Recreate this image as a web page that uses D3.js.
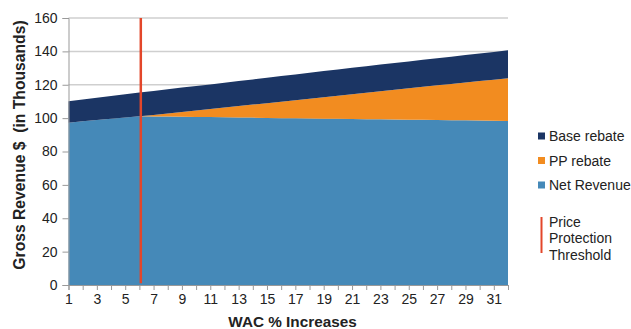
<!DOCTYPE html>
<html>
<head>
<meta charset="utf-8">
<script src="https://cdn.jsdelivr.net/npm/d3@7"></script>
<style>
  body { margin: 0; background: #fff; }
  svg text { font-family: "Liberation Sans", Arial, sans-serif; fill: #222; }
</style>
</head>
<body>
<svg id="chart" width="631" height="329"></svg>
<script>
// categories: WAC % increases
const categories = d3.range(1, 33)
const netRevenue = [97.3, 98.1, 98.9, 99.6, 100.4, 101.1, 101.0, 100.9, 100.8, 100.7,
  100.6, 100.5, 100.4, 100.3, 100.1, 100.0, 99.9, 99.8, 99.7, 99.6,
  99.5, 99.4, 99.3, 99.2, 99.1, 99.0, 98.9, 98.8, 98.7, 98.6, 98.4, 98.3]
const ppRebate = [0, 0, 0, 0, 0, 0, 0.9, 1.9, 2.8, 3.8,
  4.8, 5.8, 6.8, 7.8, 8.8, 9.8, 10.8, 11.8, 12.8, 13.8,
  14.8, 15.8, 16.8, 17.8, 18.8, 19.8, 20.8, 21.7, 22.7, 23.7, 24.6, 25.6]
const baseRebate = [12.8, 13.0, 13.3, 13.6, 13.9, 14.2, 14.4, 14.5, 14.7, 14.7,
  14.8, 14.9, 15.0, 15.1, 15.3, 15.4, 15.5, 15.6, 15.7, 15.8,
  15.9, 15.9, 16.0, 16.1, 16.1, 16.2, 16.2, 16.3, 16.4, 16.4, 16.7, 16.7]
const yTicks = [0, 20, 40, 60, 80, 100, 120, 140, 160]
const thresholdAt = 6.1

const seriesInfo = [
  { key: 'net', name: 'Net Revenue', color: '#4589b8' },
  { key: 'pp', name: 'PP rebate', color: '#f28c20' },
  { key: 'base', name: 'Base rebate', color: '#1b3564' }
]

const table = categories.map((c, i) => ({ cat: c, net: netRevenue[i], pp: ppRebate[i], base: baseRebate[i] }))

const svg = d3.select('#chart')
const plotL = 68.5, plotR = 508, plotT = 18, plotB = 285

const x = d3.scaleLinear().domain([1, 32]).range([plotL, plotR])
const y = d3.scaleLinear().domain([0, 160]).range([plotB, plotT])

// gridlines
svg.append('g')
  .selectAll('line')
  .data(yTicks.filter(d => d > 0))
  .join('line')
  .attr('x1', plotL).attr('x2', plotR)
  .attr('y1', d => y(d)).attr('y2', d => y(d))
  .attr('stroke', '#cfcfcf').attr('stroke-width', 1.5)

// stacked areas
const stack = d3.stack().keys(seriesInfo.map(s => s.key))
const layers = stack(table)
const area = d3.area()
  .x(d => x(d.data.cat))
  .y0(d => y(d[0]))
  .y1(d => y(d[1]))

svg.append('g')
  .selectAll('path')
  .data(layers)
  .join('path')
  .attr('d', area)
  .attr('fill', (d, i) => seriesInfo[i].color)

// y axis
const yAxis = svg.append('g')
  .attr('transform', `translate(${plotL},0)`)
  .call(d3.axisLeft(y).tickValues(yTicks).tickSize(6).tickPadding(5))
yAxis.select('.domain').attr('stroke', '#999')
yAxis.selectAll('.tick line').attr('stroke', '#999')
yAxis.selectAll('.tick text').attr('font-size', 14).attr('fill', '#222')

// x axis
const xAxis = svg.append('g')
  .attr('transform', `translate(0,${plotB})`)
  .call(d3.axisBottom(x).tickValues(categories).tickSize(5).tickPadding(4)
    .tickFormat(d => d % 2 === 1 ? d : ''))
xAxis.select('.domain').attr('stroke', '#999')
xAxis.selectAll('.tick line').attr('stroke', '#999')
xAxis.selectAll('.tick text').attr('font-size', 14).attr('fill', '#222')

// price protection threshold
svg.append('line')
  .attr('x1', x(thresholdAt)).attr('x2', x(thresholdAt))
  .attr('y1', y(160)).attr('y2', y(1))
  .attr('stroke', '#e3462a').attr('stroke-width', 2.5)

// axis titles
svg.append('text')
  .attr('transform', 'translate(19,145) rotate(-90)')
  .attr('text-anchor', 'middle')
  .attr('font-size', 15.7).attr('font-weight', 'bold')
  .attr('dy', '0.35em')
  .style('white-space', 'pre')
  .text('Gross Revenue $  (in Thousands)')

svg.append('text')
  .attr('x', 292.5).attr('y', 322)
  .attr('text-anchor', 'middle')
  .attr('font-size', 15.3).attr('font-weight', 'bold')
  .attr('dy', '0.35em')
  .text('WAC % Increases')

// legend
const legendItems = seriesInfo.slice().reverse()
const legend = svg.append('g')
legend.selectAll('rect')
  .data(legendItems)
  .join('rect')
  .attr('x', 538).attr('y', (d, i) => 132.5 + i * 24.5)
  .attr('width', 7).attr('height', 7)
  .attr('fill', d => d.color)
legend.selectAll('text')
  .data(legendItems)
  .join('text')
  .attr('x', 549).attr('y', (d, i) => 136.5 + i * 24.5)
  .attr('dy', '0.35em')
  .attr('font-size', 14)
  .text(d => d.name)

legend.append('line')
  .attr('x1', 541.5).attr('x2', 541.5)
  .attr('y1', 217).attr('y2', 253)
  .attr('stroke', '#e3462a').attr('stroke-width', 2)
legend.selectAll('.thr')
  .data(['Price', 'Protection', 'Threshold'])
  .join('text')
  .attr('class', 'thr')
  .attr('x', 549).attr('y', (d, i) => 222 + i * 16.5)
  .attr('dy', '0.35em')
  .attr('font-size', 14)
  .text(d => d)
</script>
</body>
</html>
